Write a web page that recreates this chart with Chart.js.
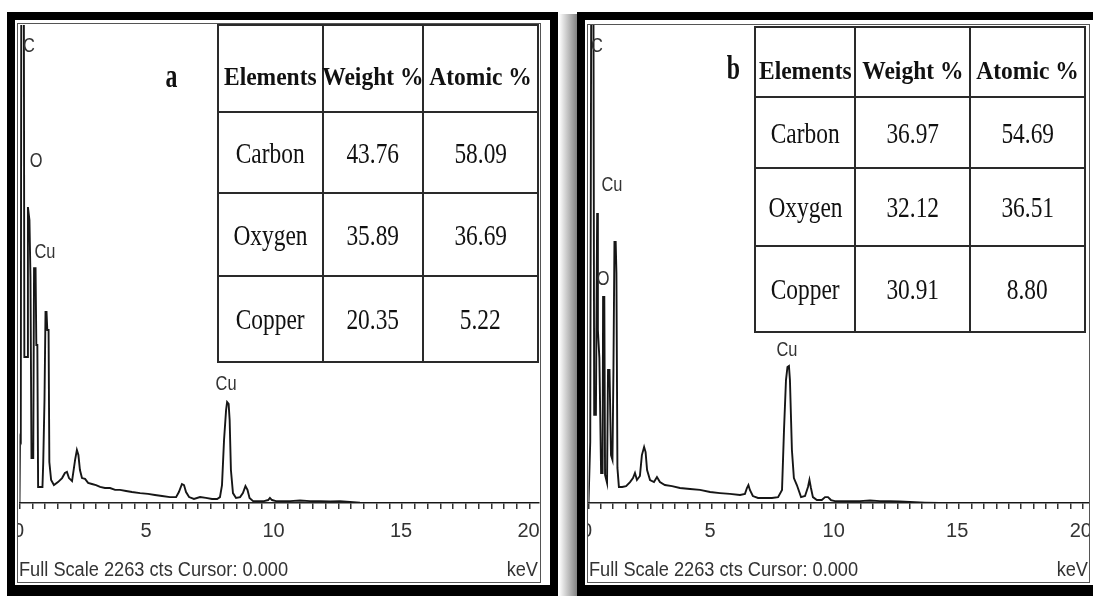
<!DOCTYPE html>
<html>
<head>
<meta charset="utf-8">
<title>EDS spectra with elemental composition</title>
<script src="https://cdn.jsdelivr.net/npm/chart.js@4.4.1/dist/chart.umd.min.js"></script>
<style>
  html, body { margin: 0; padding: 0; background: #fff; }
  body { width: 1093px; height: 596px; position: relative; overflow: hidden;
         font-family: "Liberation Sans", Arial, sans-serif; }
  .outer { position: absolute; box-sizing: border-box; border-style: solid; border-color: #000;
           border-width: 8px 8px 11px 8px; }
  .frame { position: absolute; box-sizing: border-box; border: 1px solid #555; }
  .shadow { position: absolute; background: linear-gradient(to right, rgba(120,120,120,0), rgba(100,100,100,0.8)); }
  canvas { position: absolute; }
  .foot { position: absolute; font-size: 20px; line-height: 24px; color: #333; white-space: nowrap; }
  .tline { position: absolute; background: #2a2a2a; }
  .cell { position: absolute; display: flex; align-items: center; justify-content: center;
          white-space: nowrap; font-family: "Liberation Serif", "Times New Roman", serif; color: #111; }
  .cell span { display: inline-block; line-height: 1; }
  .tag { position: absolute; display: flex; align-items: center; justify-content: center;
         font-family: "Liberation Serif", "Times New Roman", serif; font-weight: bold; font-size: 34px; color: #111; }
  .tag span { display: inline-block; transform: scaleX(0.7); line-height: 1; }
</style>
</head>
<body>
<script>
// ---- Spectrum a: energy (keV) and counts ----
const energyA = [0, 0.02, 0.05, 0.07, 0.17, 0.19, 0.30, 0.33, 0.39, 0.43,
  0.47, 0.54, 0.57, 0.63, 0.66, 0.70, 0.73, 0.90, 0.93, 0.98,
  1.02, 1.06, 1.09, 1.14, 1.17, 1.24, 1.35, 1.51, 1.67, 1.78,
  1.86, 1.94, 2.06, 2.18, 2.25, 2.31, 2.37, 2.45, 2.57, 2.69,
  2.84, 3.00, 3.16, 3.35, 3.55, 3.75, 3.94, 4.18, 4.41, 4.73,
  5.04, 5.31, 5.59, 5.90, 6.14, 6.25, 6.37, 6.45, 6.53, 6.65,
  6.84, 7.08, 7.31, 7.55, 7.75, 7.86, 7.94, 8.02, 8.10, 8.14,
  8.20, 8.24, 8.29, 8.37, 8.49, 8.65, 8.76, 8.86, 8.94, 9.02,
  9.16, 9.35, 9.59, 9.75, 9.82, 9.90, 10.06, 10.61, 11.00, 11.39,
  11.79, 12.18, 12.56, 12.96, 13.35, 14.14, 20.37];
const countsA = [0, 308, 298, 2400, 2400, 691, 691, 1401, 1340, 1070,
  213, 213, 1112, 1112, 748, 748, 76, 76, 189, 488,
  904, 904, 819, 819, 194, 109, 85, 99, 118, 142,
  147, 118, 104, 204, 251, 227, 156, 118, 114, 95,
  90, 85, 76, 71, 71, 62, 62, 57, 52, 47,
  43, 38, 33, 28, 28, 52, 90, 85, 52, 28,
  19, 28, 24, 19, 19, 28, 85, 298, 440, 478,
  469, 393, 156, 47, 24, 28, 47, 80, 62, 24,
  9, 9, 9, 14, 24, 14, 9, 9, 12, 9,
  9, 7, 9, 5, 2, 0, 0];

// ---- Spectrum b: energy (keV) and counts ----
const energyB = [0, 0.07, 0.09, 0.11, 0.20, 0.23, 0.30, 0.32, 0.35, 0.38,
  0.44, 0.51, 0.57, 0.59, 0.64, 0.67, 0.75, 0.79, 0.85, 0.91,
  0.97, 1.01, 1.05, 1.10, 1.13, 1.17, 1.23, 1.36, 1.52, 1.68,
  1.80, 1.88, 1.96, 2.08, 2.16, 2.25, 2.31, 2.37, 2.49, 2.65,
  2.77, 2.89, 3.09, 3.38, 3.70, 4.11, 4.51, 4.92, 5.32, 5.72,
  6.13, 6.33, 6.41, 6.47, 6.53, 6.65, 6.86, 7.14, 7.42, 7.67,
  7.83, 7.91, 7.99, 8.05, 8.11, 8.15, 8.23, 8.31, 8.43, 8.60,
  8.76, 8.88, 8.94, 9.00, 9.08, 9.24, 9.44, 9.57, 9.69, 9.81,
  9.97, 10.58, 10.98, 11.39, 11.79, 12.20, 12.60, 13.01, 13.61, 14.22,
  20.25];
const countsB = [0, 289, 289, 2400, 2400, 417, 417, 819, 1373, 819,
  686, 142, 142, 975, 975, 133, 95, 630, 630, 227,
  204, 639, 1236, 1236, 1089, 166, 76, 76, 80, 99,
  118, 142, 109, 128, 227, 265, 241, 156, 109, 99,
  123, 99, 85, 80, 71, 66, 62, 52, 47, 43,
  38, 43, 71, 85, 62, 33, 24, 24, 24, 28,
  62, 346, 582, 644, 649, 582, 251, 118, 85, 28,
  33, 76, 109, 71, 28, 14, 14, 28, 28, 14,
  9, 9, 9, 12, 9, 9, 7, 5, 2, 0,
  0];

// ---- Peak identifications (element, keV, counts where the name sits) ----
const peakNamesA = ['C', 'O', 'Cu', 'Cu'];
const peakKevA = [0.37, 0.65, 1.00, 8.10];
const peakCtsA = [2159, 1619, 1188, 559];
const peakNamesB = ['C', 'Cu', 'O', 'Cu'];
const peakKevB = [0.34, 0.95, 0.59, 8.03];
const peakCtsB = [2159, 1505, 1056, 724];

// ---- Axis ----
const keVTickLabels = [0, 5, 10, 15, 20];
const fullScaleCounts = 2263;
const footerText = 'Full Scale 2263 cts Cursor: 0.000';
const axisUnit = 'keV';

// ---- Composition tables ----
const tableHeader = ['Elements', 'Weight %', 'Atomic %'];
const elements = ['Carbon', 'Oxygen', 'Copper'];
const weightA = ['43.76', '35.89', '20.35'];
const atomicA = ['58.09', '36.69', '5.22'];
const weightB = ['36.97', '32.12', '30.91'];
const atomicB = ['54.69', '36.51', '8.80'];

// ---------------------------------------------------------------
function el(cls, style, text, tag) {
  const e = document.createElement(tag || 'div');
  if (cls) e.className = cls;
  Object.assign(e.style, style);
  if (text != null) e.textContent = text;
  document.body.appendChild(e);
  return e;
}
const px = n => n + 'px';

const peakLabelPlugin = {
  id: 'peakLabels',
  afterDatasetsDraw(chart, args, opts) {
    const { ctx } = chart;
    const xs = chart.scales.x, ys = chart.scales.y;
    ctx.save();
    ctx.font = '20px "Liberation Sans", Arial, sans-serif';
    ctx.fillStyle = '#333';
    ctx.textAlign = 'center';
    ctx.textBaseline = 'middle';
    opts.names.forEach((name, i) => {
      const x = xs.getPixelForValue(opts.kev[i]);
      const y = ys.getPixelForValue(opts.cts[i]);
      ctx.save();
      ctx.translate(x, y);
      ctx.scale(0.82, 1);
      ctx.fillText(name, 0, 0);
      ctx.restore();
    });
    ctx.restore();
  }
};

function spectrumChart(canvas, energy, counts, xMax, pad, labelShift, names, kev, cts) {
  const points = energy.map((e, i) => ({ x: e, y: counts[i] }));
  return new Chart(canvas, {
    type: 'line',
    data: { datasets: [{
      data: points,
      borderColor: '#161616',
      borderWidth: 1.9,
      pointRadius: 0,
      tension: 0,
      fill: false
    }] },
    options: {
      responsive: false,
      animation: false,
      devicePixelRatio: 1,
      layout: { padding: pad },
      plugins: {
        legend: { display: false },
        tooltip: { enabled: false },
        peakLabels: { names, kev, cts }
      },
      scales: {
        x: {
          type: 'linear',
          min: 0,
          max: xMax,
          border: { display: true, color: '#222', width: 1.5 },
          grid: { display: true, drawOnChartArea: false, drawTicks: true, tickLength: 6,
                  color: '#333', lineWidth: 1.5 },
          ticks: {
            stepSize: 0.5,
            includeBounds: false,
            autoSkip: false,
            maxRotation: 0,
            padding: 10,
            labelOffset: labelShift,
            color: '#333',
            font: { family: '"Liberation Sans", Arial, sans-serif', size: 20 },
            callback: v => (keVTickLabels.includes(v) ? String(v) : '')
          },
          afterFit: s => { s.height = 79; s.paddingLeft = 0; s.paddingRight = 0; }
        },
        y: { type: 'linear', min: 0, max: fullScaleCounts, display: false }
      }
    },
    plugins: [peakLabelPlugin]
  });
}

function compositionTable(cols, rows, weight, atomic) {
  const lw = 2;
  cols.forEach(x => el('tline', { left: px(x - 1), top: px(rows[0] - 1), width: px(lw),
    height: px(rows[rows.length - 1] - rows[0] + lw) }));
  rows.forEach(y => el('tline', { left: px(cols[0] - 1), top: px(y - 1),
    width: px(cols[cols.length - 1] - cols[0] + lw), height: px(lw) }));
  const body = elements.map((name, i) => [name, weight[i], atomic[i]]);
  const grid = [tableHeader].concat(body);
  grid.forEach((line, r) => {
    line.forEach((txt, c) => {
      const head = r === 0;
      const cell = el('cell', {
        left: px(cols[c]), top: px(rows[r] + (head ? 8 : 0)),
        width: px(cols[c + 1] - cols[c]), height: px(rows[r + 1] - rows[r])
      });
      const s = document.createElement('span');
      s.textContent = txt;
      s.style.fontSize = head ? '25px' : '30px';
      s.style.fontWeight = head ? 'bold' : 'normal';
      s.style.transform = head ? 'scaleX(0.94)' : 'scaleX(0.78)';
      cell.appendChild(s);
    });
  });
}

function panelTag(text, cx, cy) {
  const t = el('tag', { left: px(cx - 30), top: px(cy - 25), width: '60px', height: '50px' });
  const s = document.createElement('span');
  s.textContent = text;
  t.appendChild(s);
}

function footer(left, right) {
  el('foot', { left: px(left), top: '557px', transformOrigin: 'left center',
    transform: 'scaleX(0.91)' }, footerText);
  el('foot', { left: px(right - 60), top: '557px', width: '60px', textAlign: 'right',
    transformOrigin: 'right center', transform: 'scaleX(0.91)' }, axisUnit);
}

function makeCanvas(left, top, w, h) {
  const c = document.createElement('canvas');
  c.width = w; c.height = h;
  c.style.left = px(left); c.style.top = px(top);
  c.style.width = px(w); c.style.height = px(h);
  document.body.appendChild(c);
  return c;
}

// ---- Panel a ----
el('outer', { left: '7px', top: '12px', width: '551px', height: '584px' });
el('frame', { left: '17px', top: '23px', width: '524px', height: '560px' });
const canvasA = makeCanvas(18, 24, 522, 558);
spectrumChart(canvasA, energyA, countsA, 20.37, { left: 1.5, right: 1, top: 1, bottom: 0 }, -1,
  peakNamesA, peakKevA, peakCtsA);
compositionTable([218, 323, 423, 538], [25, 112, 193, 276, 362], weightA, atomicA);
panelTag('a', 171, 76);
footer(19, 538);

// ---- Panel b ----
el('shadow', { left: '559px', top: '14px', width: '18px', height: '582px' });
el('outer', { left: '577px', top: '12px', width: '530px', height: '584px' });
el('frame', { left: '587px', top: '24px', width: '503px', height: '559px' });
const canvasB = makeCanvas(588, 25, 501, 557);
spectrumChart(canvasB, energyB, countsB, 20.25, { left: 0.5, right: 0, top: 0, bottom: 0 }, -2,
  peakNamesB, peakKevB, peakCtsB);
compositionTable([755, 855, 970, 1085], [27, 97, 168, 246, 332], weightB, atomicB);
panelTag('b', 733, 68);
footer(589, 1088);
</script>
</body>
</html>
